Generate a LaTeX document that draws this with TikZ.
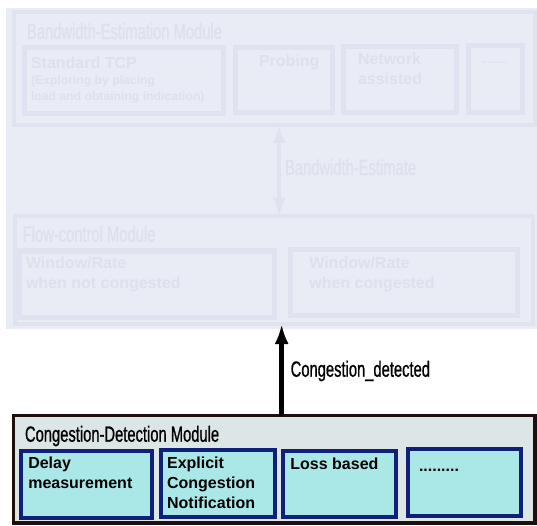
\documentclass[tikz,border=0pt]{standalone}
\usepackage{fontspec}
\setmainfont{Liberation Sans}
\newfontfamily\narrowfont{Liberation Sans}[FakeStretch=0.67, FakeBold=0.8]
\usetikzlibrary{arrows.meta}
\definecolor{fadebg}{RGB}{233,236,245}
\definecolor{fadeline}{RGB}{223,227,239}
\definecolor{fadetext}{RGB}{221,225,237}
\definecolor{cdfill}{RGB}{221,230,231}
\definecolor{cdline}{RGB}{30,14,14}
\definecolor{subfill}{RGB}{170,232,232}
\definecolor{subline}{RGB}{16,32,120}

\begin{document}
\begin{tikzpicture}[x=1pt, y=-1pt, every node/.style={inner sep=0pt, outer sep=0pt}]
\tikzset{
  modbox/.style={draw=fadeline, line width=4pt, anchor=north west},
  partbox/.style={draw=fadeline, line width=5pt, anchor=north west},
  cdbox/.style={draw=cdline, fill=cdfill, line width=3.3pt, anchor=north west},
  detbox/.style={draw=subline, fill=subfill, line width=4pt, anchor=north west},
  title/.style={font=\narrowfont\fontsize{22}{26}\selectfont, anchor=base west},
  boxtext/.style={font=\bfseries\fontsize{16}{20}\selectfont, align=left, anchor=north west},
  smalltext/.style={font=\bfseries\fontsize{12.2}{15.7}\selectfont, align=left, anchor=north west},
  faded/.style={text=fadetext},
  sigarrow/.style={line width=4.7pt, -{Latex[length=20pt,width=14pt]}},
  estarrow/.style={draw=fadeline, line width=4pt,
    {Latex[length=18pt,width=13pt]}-{Latex[length=18pt,width=13pt]}}
}
\useasboundingbox (0,0) rectangle (537,526);
\fill[fadebg] (6,8) rectangle (537,329);

% bandwidth estimation (faded)
\node[modbox, minimum width=521.5pt, minimum height=113pt] (bwmod) at (13.5,12) {};
\node[title, faded] (bwtitle) at (27,39) {Bandwidth-Estimation Module};
\node[partbox, minimum width=199pt, minimum height=66pt] (std) at (24,48) {};
\node[boxtext, faded] (stdtitle) at (31,57.3) {Standard TCP};
\node[smalltext, faded] (stdnote) at (31,76.1) {(Exploring by placing\\load and obtaining indication)};
\node[partbox, minimum width=97pt, minimum height=65pt] (probe) at (235.5,47.5) {};
\node[boxtext, faded] (probetext) at (259,55) {Probing};
\node[partbox, minimum width=113pt, minimum height=66pt] (netw) at (343.5,46.5) {};
\node[boxtext, faded] (netwtext) at (358,52.5) {Network\\assisted};
\node[partbox, minimum width=54.3pt, minimum height=67pt] (more) at (468.2,45.5) {};
\node[faded, font=\bfseries\fontsize{10}{12}\selectfont, anchor=base west] (moretext) at (482,63.5) {.........};

% flow control (faded)
\node[modbox, minimum width=518.5pt, minimum height=108pt] (fcmod) at (14.5,216) {};
\node[title, faded] (fctitle) at (22.7,241.7) {Flow-control Module};
\node[partbox, minimum width=254.6pt, minimum height=66pt] (wnc) at (19.7,251) {};
\node[boxtext, faded] (wnctext) at (26,256.7) {Window/Rate\\when not congested};
\node[partbox, minimum width=227.7pt, minimum height=65.3pt] (wc) at (290,249.7) {};
\node[boxtext, faded] (wctext) at (309.3,256.7) {Window/Rate\\when congested};

\draw[estarrow] ([xshift=5pt]bwmod.south) -- ([xshift=5pt]bwmod.south |- fcmod.north);
\node[title, faded] (estlabel) at (285,175) {Bandwidth-Estimate};

% congestion detection
\node[cdbox, minimum width=521.7pt, minimum height=107.3pt] (cdmod) at (13.3,415.7) {};
\node[title] (cdtitle) at (25,441.7) {Congestion-Detection Module};
\node[detbox, minimum width=130.7pt, minimum height=67pt] (delay) at (21.3,451) {};
\node[boxtext] (delaytext) at (28.3,457) {Delay\\measurement};
\node[detbox, minimum width=114.1pt, minimum height=67pt] (ecn) at (160.6,450.3) {};
\node[boxtext] (ecntext) at (167.1,457) {Explicit\\Congestion\\Notification};
\node[detbox, minimum width=113.5pt, minimum height=66pt] (loss) at (282.8,451.3) {};
\node[boxtext] (losstext) at (290.4,458) {Loss based};
\node[detbox, minimum width=113.3pt, minimum height=67.6pt] (other) at (408,448.7) {};
\node[boxtext, anchor=base west] (othertext) at (419,471) {.........};

\draw[sigarrow] ([xshift=7.5pt]cdmod.north) -- ([xshift=7.5pt]cdmod.north |- fcmod.south);
\node[title] (cdlabel) at (290.7,376.7) {Congestion\_detected};
\end{tikzpicture}
\end{document}
